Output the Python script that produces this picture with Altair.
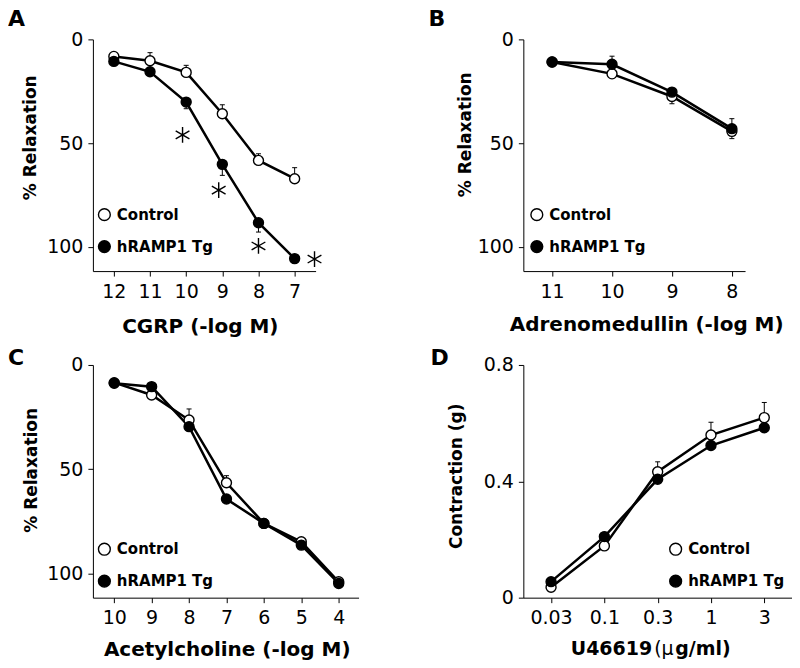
import altair as alt
import pandas as pd

GROUPS = ["Control", "hRAMP1 Tg"]
FILLS = ["white", "black"]

# Panel A: CGRP (-log M)
A_x = [12, 11, 10, 9, 8, 7]
A_ctrl = [8.2, 10.3, 15.9, 35.8, 58.3, 67.1]
A_ctrl_err = [0, -3.9, -3.4, -4.3, -3.2, -5.3]
A_tg = [10.6, 15.6, 30.2, 60.2, 88.3, 105.6]
A_tg_err = [0, 0, 3.2, 5.3, 4.5, 0]
A_star_x = [10.1, 9.1, 8.0, 6.45]
A_star_y = [46.0, 72.6, 99.5, 105.8]

# Panel B: Adrenomedullin (-log M)
B_x = [11, 10, 9, 8]
B_ctrl = [10.9, 16.6, 27.5, 44.3]
B_ctrl_err = [0, 0, 3.5, 3.5]
B_tg = [10.9, 12.0, 25.4, 43.0]
B_tg_err = [0, -3.9, 0, -4.8]

# Panel C: Acetylcholine (-log M)
C_x = [10, 9, 8, 7, 6, 5, 4]
C_ctrl = [8.5, 14.4, 26.4, 56.5, 76.0, 84.8, 104.0]
C_ctrl_err = [0, 0, -5.3, -3.4, 0, 0, 0]
C_tg = [8.8, 10.4, 29.6, 64.3, 76.0, 86.4, 104.8]
C_tg_err = [0, 0, 0, 0, 0, 0, 0]

# Panel D: U46619 (ug/ml)
D_x = ["0.03", "0.1", "0.3", "1", "3"]
D_ctrl = [0.036, 0.178, 0.433, 0.559, 0.619]
D_ctrl_err = [0, 0, 0.034, 0.044, 0.052]
D_tg = [0.055, 0.210, 0.407, 0.523, 0.584]
D_tg_err = [0, 0, 0, 0, 0]

REL_TICKS = [0, 50, 100]
CON_TICKS = [0, 0.4, 0.8]

STAR = "M0,-1L0,1M-0.87,-0.5L0.87,0.5M-0.87,0.5L0.87,-0.5"


def build_df(xs, ctrl, ctrl_err, tg, tg_err):
    rows = []
    for g, vals, errs in ((GROUPS[0], ctrl, ctrl_err), (GROUPS[1], tg, tg_err)):
        for x, v, e in zip(xs, vals, errs):
            rows.append({"x": x, "y": v, "yerr": v + e, "err": e, "group": g})
    return pd.DataFrame(rows)


def text_layer(txt, x, y, size=22, weight="bold", align="left"):
    return alt.Chart(pd.DataFrame({"t": [txt]})).mark_text(
        font="DejaVu Sans", fontSize=size, fontWeight=weight, align=align,
        baseline="alphabetic", color="black"
    ).encode(text="t:N", x=alt.value(x), y=alt.value(y))


def panel(df, xtype, xscale, xaxis, yscale, yaxis, w, h, lx, ly, label, labx, laby, extra=()):
    base = alt.Chart(df)
    X = alt.X(f"x:{xtype}", scale=xscale, axis=xaxis)
    Y = alt.Y("y:Q", scale=yscale, axis=yaxis)
    line = base.mark_line(color="black", strokeWidth=2.5).encode(x=X, y=Y, detail="group:N")
    err = base.transform_filter("datum.err != 0").mark_rule(color="black", strokeWidth=1).encode(
        x=X, y=Y, y2="yerr:Q")
    cap = base.transform_filter("datum.err != 0").mark_rule(
        color="black", strokeWidth=1, xOffset=-2.5, x2Offset=2.5
    ).encode(x=X, x2="x", y=alt.Y("yerr:Q"))
    pts = base.mark_circle(size=100, opacity=1, stroke="black", strokeWidth=1.4).encode(
        x=X, y=Y,
        fill=alt.Fill("group:N", scale=alt.Scale(domain=GROUPS, range=FILLS),
                      legend=alt.Legend(title=None, orient="none", legendX=lx, legendY=ly,
                                        symbolType="circle", symbolSize=140,
                                        symbolStrokeColor="black", symbolStrokeWidth=1.4,
                                        symbolOpacity=1, labelFont="DejaVu Sans",
                                        labelFontWeight="bold", labelFontSize=15,
                                        labelColor="black", labelOffset=5, rowPadding=13,
                                        padding=0)))
    lab = text_layer(label, labx, laby)
    return alt.layer(line, err, cap, pts, *extra, lab).properties(width=w, height=h)


def yaxis(title, tx, ty, values, fmt):
    return alt.Axis(values=values, format=fmt, title=title, titleX=tx, titleY=ty,
                    titleAngle=270, titleAlign="center", titleBaseline="middle")


def xaxis(title, tx, ty, values=None):
    kw = dict(title=title, titleX=tx, titleY=ty, titleAlign="center", titleBaseline="alphabetic")
    if values is not None:
        kw["values"] = values
        kw["format"] = "d"
    return alt.Axis(**kw)


dfA = build_df(A_x, A_ctrl, A_ctrl_err, A_tg, A_tg_err)
dfB = build_df(B_x, B_ctrl, B_ctrl_err, B_tg, B_tg_err)
dfC = build_df(C_x, C_ctrl, C_ctrl_err, C_tg, C_tg_err)
dfD = build_df(D_x, D_ctrl, D_ctrl_err, D_tg, D_tg_err)

stars = alt.Chart(pd.DataFrame({"x": A_star_x, "y": A_star_y})).mark_point(
    shape=STAR, size=250, filled=False, color="black", strokeWidth=1.4, opacity=1
).encode(x="x:Q", y="y:Q")

rel_scale = alt.Scale(domain=[0, 111.6], reverse=True, nice=False, zero=False)

A = panel(dfA, "Q", alt.Scale(domain=[6.42, 12.58], reverse=True, nice=False, zero=False),
          xaxis("CGRP (-log M)", 107, 61, A_x), rel_scale,
          yaxis("% Relaxation", -62, 98, REL_TICKS, "d"), 223, 232, 4, 168, "A", -85, -13,
          extra=(stars,))
B = panel(dfB, "Q", alt.Scale(domain=[7.78, 11.48], reverse=True, nice=False, zero=False),
          xaxis("Adrenomedullin (-log M)", 123, 59, B_x), rel_scale,
          yaxis("% Relaxation", -58, 95, REL_TICKS, "d"), 222, 232, 6, 168, "B", -95, -13)
C = panel(dfC, "Q", alt.Scale(domain=[3.47, 10.57], reverse=True, nice=False, zero=False),
          xaxis("Acetylcholine (-log M)", 134, 58, C_x), rel_scale,
          yaxis("% Relaxation", -61, 105, REL_TICKS, "d"), 266, 233, 4, 177, "C", -85, 0)
D = panel(dfD, "O", alt.Scale(type="point", domain=D_x, padding=0.52),
          alt.Axis(title=None, labelAngle=0),
          alt.Scale(domain=[0, 0.8], nice=False),
          yaxis("Contraction (g)", -67, 111, CON_TICKS, "~g"), 269, 233, 145, 177, "D", -93, 0,
          extra=(text_layer("U46619", 129, 290, size=19, align="right"),
                 text_layer("(\u03bc", 131, 290, size=19, weight="normal"),
                 text_layer("g/ml)", 152, 290, size=19)))

chart = alt.concat(
    A, B, C, D, columns=2, spacing={"row": 94, "column": 165}, bounds="flush", padding=0
).resolve_scale(fill="independent").configure_view(stroke=None).configure_axis(
    domainColor="black", domainWidth=1, tickColor="black", tickWidth=1, tickSize=5,
    labelFont="DejaVu Sans", labelFontSize=19, labelColor="black",
    titleFont="DejaVu Sans", titleFontWeight="bold", titleColor="black",
    grid=False, labelOverlap=False
).configure_axisX(labelPadding=6, titleFontSize=20).configure_axisY(
    labelPadding=5, titleFontSize=17
)

chart.save("out.html", embed_options={"renderer": "svg", "actions": False})
